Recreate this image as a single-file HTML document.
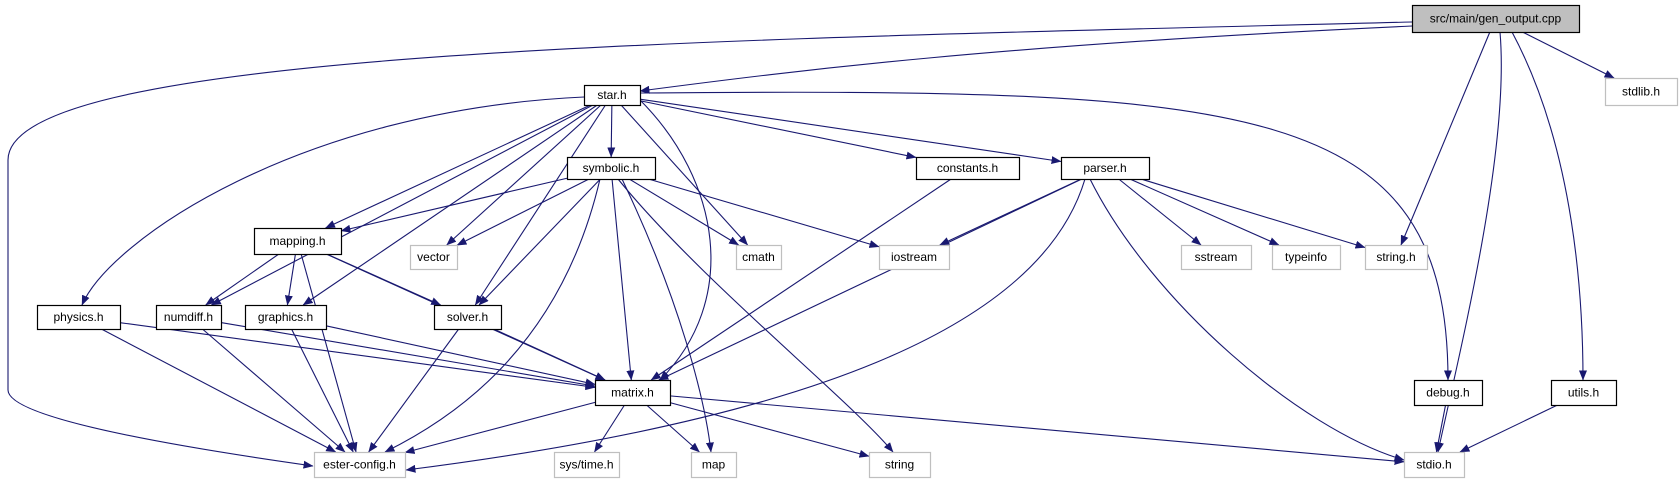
<!DOCTYPE html>
<html><head><meta charset="utf-8"><style>
html,body{margin:0;padding:0;background:#fff}
svg{display:block}
text{font-family:"Liberation Sans",sans-serif;font-size:12px}
</style></head><body>
<svg id="s" width="1680" height="485" xmlns="http://www.w3.org/2000/svg">
<defs><marker id="a" markerWidth="10" markerHeight="8" refX="9.5" refY="4" orient="auto" markerUnits="userSpaceOnUse"><path d="M0,0 L10,4 L0,8 z" fill="#191970"/></marker></defs>
<g id="e" fill="none" stroke="#191970" stroke-width="1.1"></g>
<g id="n"></g>
</svg>
<script>
var N={
gen:[1412,5,1579,32,"src/main/gen_output.cpp",2],
star:[584,85,640,105,"star.h",1],
stdlib:[1605,78,1677,105,"stdlib.h",0],
symbolic:[567,157,655,179,"symbolic.h",1],
constants:[916,157,1019,179,"constants.h",1],
parser:[1061,157,1149,179,"parser.h",1],
mapping:[254,228,341,254,"mapping.h",1],
vector:[410,245,457,269,"vector",0],
cmath:[736,245,781,269,"cmath",0],
iostream:[879,245,949,269,"iostream",0],
sstream:[1181,245,1251,269,"sstream",0],
typeinfo:[1272,245,1340,269,"typeinfo",0],
stringh:[1365,245,1427,269,"string.h",0],
physics:[37,305,120,329,"physics.h",1],
numdiff:[156,305,221,329,"numdiff.h",1],
graphics:[245,305,326,329,"graphics.h",1],
solver:[434,305,501,329,"solver.h",1],
matrix:[595,380,670,405,"matrix.h",1],
debug:[1414,380,1482,405,"debug.h",1],
utils:[1551,380,1616,405,"utils.h",1],
ester:[314,452,405,477,"ester-config.h",0],
systime:[554,452,619,477,"sys/time.h",0],
map:[691,452,736,477,"map",0],
string:[869,452,930,477,"string",0],
stdio:[1404,452,1464,477,"stdio.h",0]};
var ns="http://www.w3.org/2000/svg",E=document.getElementById('e'),G=document.getElementById('n');
function c(k){var b=N[k];return [(b[0]+b[2])/2,(b[1]+b[3])/2];}
function clip(k,p,q){var b=N[k],cx=(b[0]+b[2])/2,cy=(b[1]+b[3])/2,dx=q[0]-cx,dy=q[1]-cy,hw=(b[2]-b[0])/2,hh=(b[3]-b[1])/2;
var t=Math.min(dx?hw/Math.abs(dx):1e9,dy?hh/Math.abs(dy):1e9);return [cx+dx*t,cy+dy*t];}
function path(d){var p=document.createElementNS(ns,'path');p.setAttribute('d',d);p.setAttribute('marker-end','url(#a)');E.appendChild(p);}
function ed(a,b){var A=c(a),B=c(b),s=clip(a,A,B),t=clip(b,B,A);path('M'+s[0]+','+s[1]+' L'+t[0]+','+t[1]);}
[["gen","stdlib"],["gen","stringh"],["star","symbolic"],["star","constants"],["star","parser"],["star","mapping"],["star","vector"],["star","cmath"],["star","numdiff"],["star","graphics"],["star","solver"],
["symbolic","mapping"],["symbolic","vector"],["symbolic","cmath"],["symbolic","iostream"],["symbolic","solver"],["symbolic","matrix"],
["parser","iostream"],["parser","sstream"],["parser","typeinfo"],["parser","stringh"],["parser","matrix"],["constants","matrix"],
["mapping","numdiff"],["mapping","graphics"],["mapping","solver"],["mapping","matrix"],["mapping","ester"],
["physics","matrix"],["physics","ester"],["numdiff","matrix"],["numdiff","ester"],["graphics","matrix"],["graphics","ester"],["solver","matrix"],["solver","ester"],
["matrix","ester"],["matrix","systime"],["matrix","map"],["matrix","string"],["matrix","stdio"],["debug","stdio"],["utils","stdio"]].forEach(function(x){ed(x[0],x[1]);});
path("M1412,22 C700,40 8,50 8,160 L8,390 C8,420 200,450 313,466");
path("M1412,26 C1000,45 800,70 640,91");
path("M640,93 C1250,88 1448,100 1448,380");
path("M584,97 C300,110 110,240 82,305");
path("M1500,32 C1510,150 1460,350 1438,452");
path("M1512,32 C1575,150 1583,300 1583,380");
path("M1090,179 C1150,300 1300,430 1404,460");
path("M618,179 C700,280 850,400 893,452");
path("M622,179 C680,300 705,400 711,452");
path("M1085,179 C1040,330 800,420 406,470");
path("M600,179 C560,350 450,420 385,452");
path("M640,100 C720,180 740,300 660,380");
for(var k in N){var b=N[k],r=document.createElementNS(ns,'rect');r.setAttribute('x',b[0]+0.5);r.setAttribute('y',b[1]+0.5);r.setAttribute('width',b[2]-b[0]);r.setAttribute('height',b[3]-b[1]);
r.setAttribute('fill',b[5]==2?'#bfbfbf':'#fff');r.setAttribute('stroke',b[5]?'#000':'#bfbfbf');r.setAttribute('stroke-width',1.2);G.appendChild(r);
var t=document.createElementNS(ns,'text');t.setAttribute('x',(b[0]+b[2])/2);t.setAttribute('y',(b[1]+b[3])/2+4);t.setAttribute('text-anchor','middle');t.textContent=b[4];G.appendChild(t);}
</script>
</body></html>
